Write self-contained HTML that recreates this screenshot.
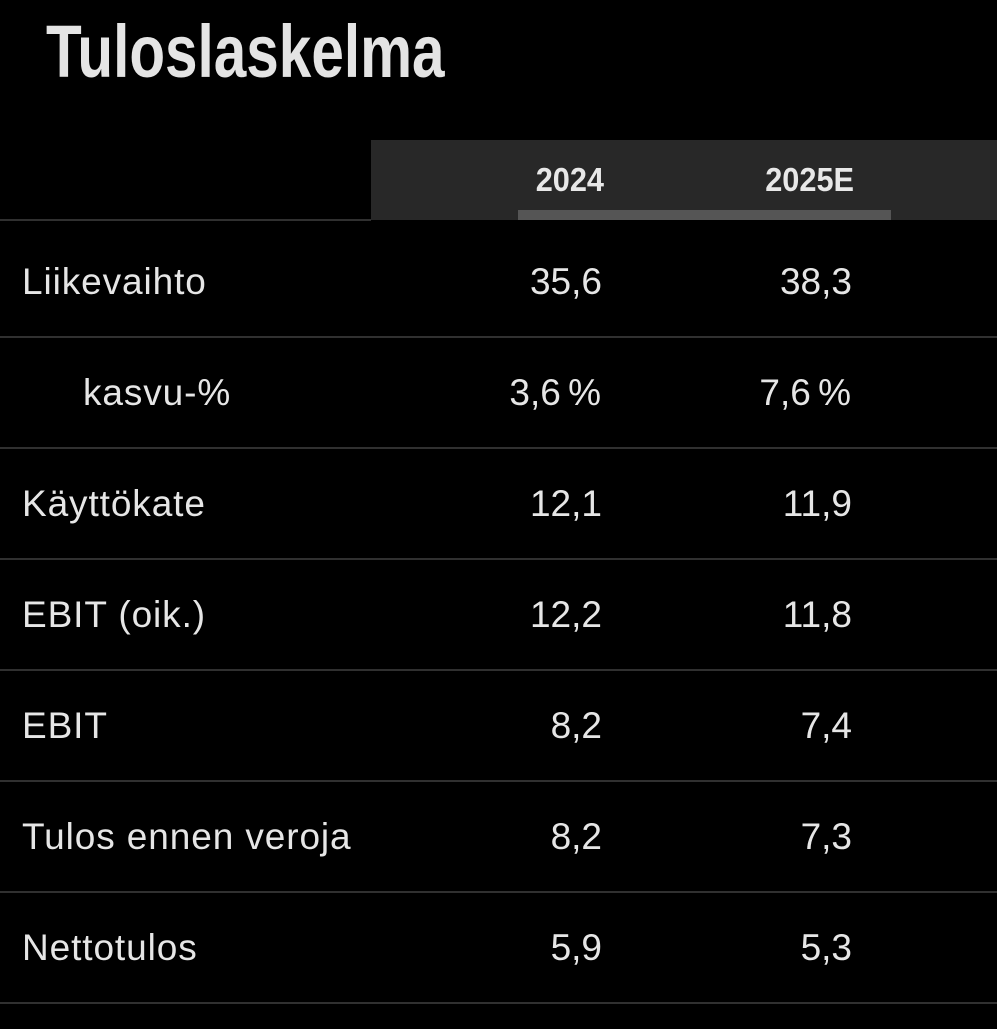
<!DOCTYPE html>
<html>
<head>
<meta charset="utf-8">
<style>
  html, body { margin:0; padding:0; }
  body { width:997px; height:1029px; background:#000; position:relative; overflow:hidden;
         font-family:"Liberation Sans", sans-serif; color:#e6e6e6; }
  .abs { position:absolute; }
  .title { left:46px; top:12px; font-size:74px; font-weight:bold; line-height:80px;
           transform:scaleX(0.79); transform-origin:left top; white-space:nowrap; color:#e4e4e4; }
  .hdr { left:371px; top:140px; width:626px; height:80px; background:#282828; }
  .bar { left:518px; top:210px; width:373px; height:10px; background:#555; }
  .hline { left:0; width:997px; height:2px; background:#303030; }
  .h { font-size:33px; font-weight:bold; line-height:40px; white-space:nowrap; color:#e8e8e8;
       transform:scaleX(0.93); transform-origin:right top; text-align:right; width:200px; }
  .lbl { left:22px; font-size:37px; line-height:44px; letter-spacing:0.9px; white-space:nowrap; }
  .val { font-size:37px; line-height:44px; white-space:nowrap; text-align:right; width:200px; }
  .pct { word-spacing:-3px; }
</style>
</head>
<body>
  <div class="abs title">Tuloslaskelma</div>

  <div class="abs hdr"></div>
  <div class="abs h" style="left:404px; top:160px;">2024</div>
  <div class="abs h" style="left:654px; top:160px;">2025E</div>
  <div class="abs bar"></div>

  <div class="abs hline" style="top:219px; width:371px;"></div>
  <div class="abs hline" style="top:336px;"></div>
  <div class="abs hline" style="top:447px;"></div>
  <div class="abs hline" style="top:558px;"></div>
  <div class="abs hline" style="top:669px;"></div>
  <div class="abs hline" style="top:780px;"></div>
  <div class="abs hline" style="top:891px;"></div>
  <div class="abs hline" style="top:1002px;"></div>

  <div class="abs lbl" style="top:260px;">Liikevaihto</div>
  <div class="abs val" style="left:402px; top:260px;">35,6</div>
  <div class="abs val" style="left:652px; top:260px;">38,3</div>

  <div class="abs lbl" style="left:83px; top:371px;">kasvu-%</div>
  <div class="abs val pct" style="left:401px; top:371px;">3,6 %</div>
  <div class="abs val pct" style="left:651px; top:371px;">7,6 %</div>

  <div class="abs lbl" style="top:482px;">Käyttökate</div>
  <div class="abs val" style="left:402px; top:482px;">12,1</div>
  <div class="abs val" style="left:652px; top:482px;">11,9</div>

  <div class="abs lbl" style="top:593px;">EBIT (oik.)</div>
  <div class="abs val" style="left:402px; top:593px;">12,2</div>
  <div class="abs val" style="left:652px; top:593px;">11,8</div>

  <div class="abs lbl" style="top:704px;">EBIT</div>
  <div class="abs val" style="left:402px; top:704px;">8,2</div>
  <div class="abs val" style="left:652px; top:704px;">7,4</div>

  <div class="abs lbl" style="top:815px;">Tulos ennen veroja</div>
  <div class="abs val" style="left:402px; top:815px;">8,2</div>
  <div class="abs val" style="left:652px; top:815px;">7,3</div>

  <div class="abs lbl" style="top:926px;">Nettotulos</div>
  <div class="abs val" style="left:402px; top:926px;">5,9</div>
  <div class="abs val" style="left:652px; top:926px;">5,3</div>
</body>
</html>
